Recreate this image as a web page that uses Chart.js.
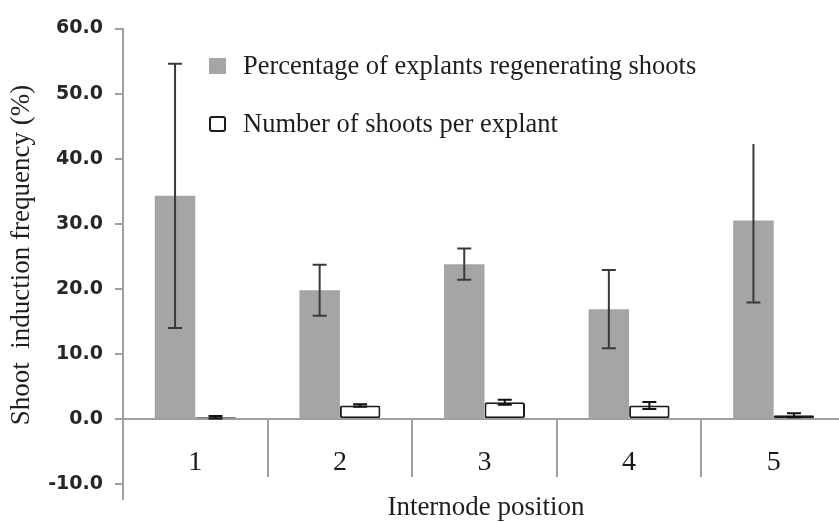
<!DOCTYPE html>
<html>
<head>
<meta charset="utf-8">
<script src="https://cdn.jsdelivr.net/npm/chart.js@4.4.1/dist/chart.umd.min.js"></script>
<style>
  html, body { margin: 0; padding: 0; background: #fff; overflow: hidden; }
  #wrap { width: 850px; height: 522px; }
</style>
</head>
<body>
<div id="wrap"><canvas id="chart" width="850" height="522"></canvas></div>
<script>
// data
const positions = ['1', '2', '3', '4', '5'];
const pctRegenerating = [34.3, 19.8, 23.8, 16.9, 30.5];
const pctRegeneratingErr = [20.3, 3.9, 2.4, 6.0, 12.6];
const shootsPerExplant = [0.3, 2.1, 2.6, 2.1, 0.6];
const shootsPerExplantErr = [0.2, 0.2, 0.4, 0.55, 0.3];
const yTicks = [-10, 0, 10, 20, 30, 40, 50, 60];

const SERIF = '"Liberation Serif", "Times New Roman", serif';

// error bars drawn on top of each bar
const errorBars = {
  id: 'errorBars',
  afterDatasetsDraw(chart) {
    const { ctx } = chart;
    const y = chart.scales.y;
    chart.data.datasets.forEach((ds, i) => {
      chart.getDatasetMeta(i).data.forEach((bar, j) => {
        const v = ds.data[j], e = ds.errors[j];
        const top = y.getPixelForValue(v + e);
        const bot = y.getPixelForValue(v - e);
        ctx.save();
        ctx.strokeStyle = ds.errorColor;
        ctx.lineWidth = 2;
        ctx.beginPath();
        ctx.moveTo(bar.x, top); ctx.lineTo(bar.x, bot);
        ctx.moveTo(bar.x - 7, top); ctx.lineTo(bar.x + 7, top);
        ctx.moveTo(bar.x - 7, bot); ctx.lineTo(bar.x + 7, bot);
        ctx.stroke();
        ctx.restore();
      });
    });
  }
};

// legend box + axis titles
const decorations = {
  id: 'decorations',
  afterDraw(chart) {
    const { ctx } = chart;
    const ds = chart.data.datasets;
    ctx.save();
    // legend sits on a white box (hides top of the 5th error bar)
    ctx.fillStyle = '#fff';
    ctx.fillRect(200, 38, 570, 106);

    ctx.fillStyle = ds[0].backgroundColor;
    ctx.fillRect(209, 58, 17, 16);
    ctx.fillStyle = '#fff';
    ctx.strokeStyle = '#1a1a1a';
    ctx.lineWidth = 2;
    ctx.beginPath();
    ctx.roundRect(210, 117, 15, 14, 2);
    ctx.fill();
    ctx.stroke();

    ctx.fillStyle = '#1e1e1e';
    ctx.font = '26.5px ' + SERIF;
    ctx.textAlign = 'left';
    ctx.textBaseline = 'middle';
    ctx.fillText(ds[0].label, 243, 67);
    ctx.fillText(ds[1].label, 243, 125);

    // x title
    ctx.font = '27px ' + SERIF;
    ctx.textAlign = 'center';
    ctx.textBaseline = 'alphabetic';
    ctx.fillText('Internode position', 486, 515);

    // y title
    ctx.translate(22, 255);
    ctx.rotate(-Math.PI / 2);
    ctx.textBaseline = 'middle';
    ctx.fillText('Shoot  induction frequency (%)', 0, 0);
    ctx.restore();
  }
};

new Chart(document.getElementById('chart'), {
  type: 'bar',
  data: {
    labels: positions,
    datasets: [
      {
        label: 'Percentage of explants regenerating shoots',
        data: pctRegenerating,
        errors: pctRegeneratingErr,
        errorColor: '#3a3a3a',
        backgroundColor: '#a5a5a5',
        borderWidth: 0
      },
      {
        label: 'Number of shoots per explant',
        data: shootsPerExplant,
        errors: shootsPerExplantErr,
        errorColor: '#111',
        backgroundColor: '#fff',
        borderColor: '#1a1a1a',
        borderWidth: 2,
        borderRadius: 2,
        borderSkipped: false
      }
    ]
  },
  options: {
    responsive: false,
    animation: false,
    devicePixelRatio: 1,
    categoryPercentage: 0.56,
    barPercentage: 1.0,
    layout: { padding: { top: 28.5, right: 4, left: 0, bottom: 0 } },
    plugins: { legend: { display: false }, tooltip: { enabled: false } },
    scales: {
      x: {
        position: { y: 0 },
        offset: true,
        afterFit: s => { s.height = 19; },
        border: { color: '#a0a0a0', width: 2 },
        grid: { offset: true, drawOnChartArea: false, color: '#a0a0a0', lineWidth: 2, tickLength: 57 },
        ticks: { color: '#1a1a1a', font: { family: SERIF, size: 28 }, padding: -30 }
      },
      y: {
        min: -12.2,
        max: 60,
        afterBuildTicks: s => { s.ticks = yTicks.map(value => ({ value })); },
        afterFit: s => { s.width = 123; },
        border: { color: '#a0a0a0', width: 2 },
        grid: { drawOnChartArea: false, color: '#a0a0a0', lineWidth: 2, tickLength: 8 },
        ticks: {
          color: '#262626',
          font: { family: '"DejaVu Sans"', size: 19, weight: 'bold' },
          padding: 12,
          callback: v => v.toFixed(1)
        }
      }
    }
  },
  plugins: [errorBars, decorations]
});
</script>
</body>
</html>
